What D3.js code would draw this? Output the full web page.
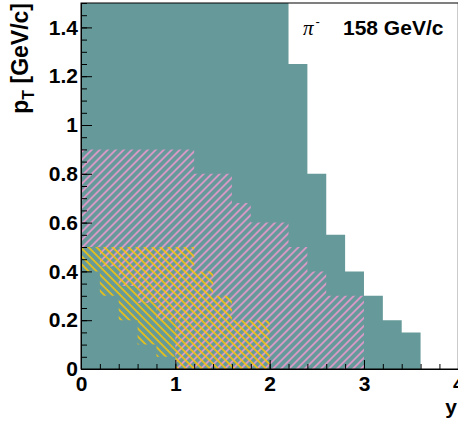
<!DOCTYPE html>
<html><head><meta charset="utf-8">
<script src="https://cdn.jsdelivr.net/npm/d3@7"></script>
<style>body{margin:0;background:#fff;overflow:hidden}</style>
</head><body>
<svg id="c" width="458" height="421"></svg>
<script>
// ---- data ----
const xTicks = [0, 1, 2, 3, 4];
const xTickLabels = ["0", "1", "2", "3", "4"];
const yTicks = [0, 0.2, 0.4, 0.6, 0.8, 1, 1.2, 1.4];
const yTickLabels = ["0", "0.2", "0.4", "0.6", "0.8", "1", "1.2", "1.4"];

// full acceptance (teal)
const tealEdges = [0, 2.2, 2.4, 2.6, 2.8, 3.0, 3.2, 3.4, 3.6];
const tealLow   = [0, 0, 0, 0, 0, 0, 0, 0];
const tealHigh  = [1.5, 1.25, 0.8, 0.55, 0.4, 0.3, 0.2, 0.15];

// pink hatched region
const pinkEdges = [0, 0.2, 0.4, 0.6, 0.8, 1.0, 1.2, 1.6, 1.8, 2.2, 2.4, 2.6, 3.0];
const pinkLow   = [0.5, 0.42, 0.34, 0.27, 0.2, 0, 0, 0, 0, 0, 0, 0];
const pinkHigh  = [0.9, 0.9, 0.9, 0.9, 0.9, 0.9, 0.8, 0.68, 0.6, 0.5, 0.4, 0.3];

// yellow hatched region
const yellowEdges = [0, 0.2, 0.4, 0.6, 0.8, 1.0, 1.2, 1.4, 1.6, 2.0];
const yellowLow   = [0.4, 0.3, 0.2, 0.1, 0.05, 0, 0, 0, 0];
const yellowHigh  = [0.5, 0.5, 0.5, 0.5, 0.5, 0.5, 0.4, 0.3, 0.2];

// ---- drawing ----
const svg = d3.select("#c");
const L = 81, R = 458.3, T = 3, B = 369;
const x = d3.scaleLinear([0, 4], [L, R]);
const y = d3.scaleLinear([0, 1.5], [B, T]);
const FONT = "'Liberation Sans', Arial, Helvetica, sans-serif";

const defs = svg.append("defs");
defs.append("clipPath").attr("id", "plot")
  .append("rect").attr("x", L).attr("y", T).attr("width", R - L).attr("height", B - T);

function hatch(id, color, angle) {
  const p = defs.append("pattern").attr("id", id)
    .attr("patternUnits", "userSpaceOnUse")
    .attr("width", 5.66).attr("height", 5.66)
    .attr("patternTransform", `rotate(${angle})`);
  p.append("line").attr("x1", 1).attr("y1", -2).attr("x2", 1).attr("y2", 8)
    .attr("stroke", color).attr("stroke-width", 1.5);
}
hatch("pinkH", "#f29ad2", 45);
hatch("yelH", "#ffc800", -45);

function toPoints(edges, low, high) {
  const pts = low.map((v, i) => ({ x: edges[i], lo: v, hi: high[i] }));
  pts.push({ x: edges[edges.length - 1], lo: low[low.length - 1], hi: high[high.length - 1] });
  return pts;
}
const area = d3.area().curve(d3.curveStepAfter)
  .x(d => x(d.x)).y0(d => y(d.lo)).y1(d => y(d.hi));

const g = svg.append("g").attr("clip-path", "url(#plot)");
g.append("path").datum(toPoints(tealEdges, tealLow, tealHigh))
  .attr("d", area).attr("fill", "#669999");
g.append("path").datum(toPoints(pinkEdges, pinkLow, pinkHigh))
  .attr("d", area).attr("fill", "url(#pinkH)");
g.append("path").datum(toPoints(yellowEdges, yellowLow, yellowHigh))
  .attr("d", area).attr("fill", "url(#yelH)");

// frame
svg.append("rect").attr("x", L).attr("y", T).attr("width", R - L).attr("height", B - T)
  .attr("fill", "none").attr("stroke", "#000").attr("stroke-width", 1);

// axes
const yAxis = d3.axisLeft(y).tickValues(yTicks).tickSize(-11).tickSizeOuter(0)
  .tickPadding(3).tickFormat((d, i) => yTickLabels[i]);
const yMinor = d3.axisLeft(y).tickValues(d3.range(0, 1.5001, 0.05)).tickSize(-6)
  .tickSizeOuter(0).tickFormat("");
const xAxis = d3.axisBottom(x).tickValues(xTicks).tickSize(-9).tickSizeOuter(0)
  .tickPadding(6).tickFormat((d, i) => xTickLabels[i]);
const xMinor = d3.axisBottom(x).tickValues(d3.range(0, 4.001, 0.2)).tickSize(-5)
  .tickSizeOuter(0).tickFormat("");

function styleAxis(sel) {
  sel.selectAll("path.domain").attr("stroke", "#000");
  sel.selectAll(".tick line").attr("stroke", "#000");
  sel.selectAll("text").attr("font-family", FONT).attr("font-weight", "bold")
    .attr("font-size", 21).attr("fill", "#000");
}
svg.append("g").attr("transform", `translate(${L},0)`).call(yMinor).call(styleAxis);
svg.append("g").attr("transform", `translate(${L},0)`).call(yAxis).call(styleAxis);
svg.append("g").attr("transform", `translate(0,${B})`).call(xMinor).call(styleAxis);
const xa = svg.append("g").attr("transform", `translate(0,${B})`).call(xAxis).call(styleAxis);
xa.selectAll("text").attr("dy", "0.75em");

// axis titles
const yt = svg.append("text").attr("transform", "translate(28,3) rotate(-90)")
  .attr("text-anchor", "end").attr("font-family", FONT).attr("font-weight", "bold")
  .attr("font-size", 23).attr("fill", "#000");
yt.append("tspan").text("p");
yt.append("tspan").attr("font-size", 16).attr("dy", 6).text("T");
yt.append("tspan").attr("dy", -6).text(" [GeV/c]");

svg.append("text").attr("x", 457).attr("y", 414).attr("text-anchor", "end")
  .attr("font-family", FONT).attr("font-weight", "bold").attr("font-size", 21)
  .attr("fill", "#000").text("y");

// label
const lab = svg.append("text").attr("x", 303).attr("y", 35)
  .attr("font-family", FONT).attr("font-size", 21).attr("fill", "#000");
lab.append("tspan").attr("font-family", "'Liberation Serif', 'DejaVu Serif', serif")
  .attr("font-style", "italic").text("π");
lab.append("tspan").attr("font-size", 13).attr("dy", -9).attr("dx", 2).text("-");
lab.append("tspan").attr("x", 343).attr("y", 35).attr("font-weight", "bold").text("158 GeV/c");
</script>
</body></html>
